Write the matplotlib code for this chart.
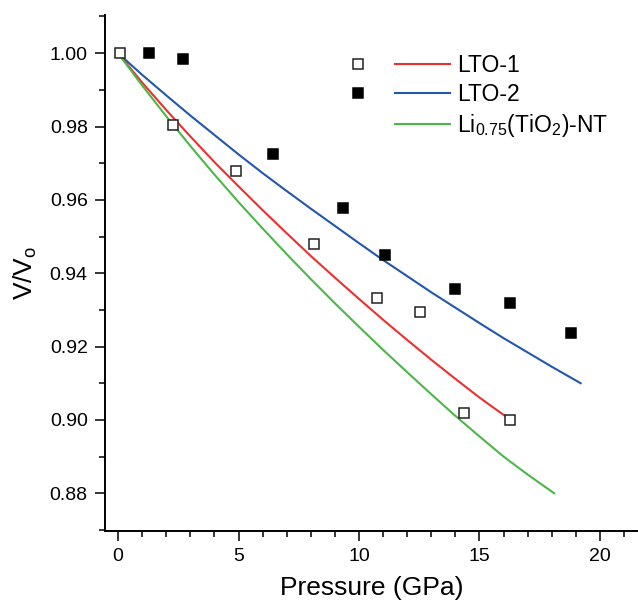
import matplotlib
matplotlib.use('Agg')
import matplotlib.pyplot as plt
from matplotlib.lines import Line2D
from matplotlib.legend_handler import HandlerTuple

plt.rcParams['font.family'] = ['Liberation Sans', 'DejaVu Sans']
plt.rcParams['mathtext.default'] = 'regular'

# measured data (open = LTO-1, filled = LTO-2)
lto1_p = [0.08, 2.3, 4.9, 8.13, 10.75, 12.54, 14.36, 16.27]
lto1_v = [1.000, 0.9805, 0.968, 0.948, 0.9332, 0.9294, 0.9019, 0.8999]
lto2_p = [1.29, 2.7, 6.42, 9.34, 11.1, 13.98, 16.27, 18.79]
lto2_v = [1.0001, 0.9985, 0.9724, 0.9578, 0.9451, 0.9356, 0.9318, 0.9236]

# EOS curves
fit1_p = [0, 1, 2, 3, 4, 5, 6, 7, 8, 9, 10, 11, 12, 13, 14, 15, 16.1]
fit1_v = [1.000, 0.9920, 0.9845, 0.9773, 0.9703, 0.9637, 0.9572, 0.9509, 0.9447,
          0.9388, 0.9330, 0.9273, 0.9218, 0.9164, 0.9112, 0.9061, 0.9009]
fit2_p = [0, 1, 2, 3, 4, 5, 6, 7, 8, 9, 10, 11, 12, 13, 14, 15, 16, 17, 18, 19.2]
fit2_v = [1.000, 0.9941, 0.9885, 0.9830, 0.9777, 0.9724, 0.9673, 0.9624, 0.9576,
          0.9529, 0.9482, 0.9436, 0.9392, 0.9348, 0.9306, 0.9264, 0.9223, 0.9184,
          0.9145, 0.9100]
fit3_p = [0, 1, 2, 3, 4, 5, 6, 7, 8, 9, 10, 11, 12, 13, 14, 15, 16, 17, 18.1]
fit3_v = [1.000, 0.9912, 0.9828, 0.9747, 0.9669, 0.9594, 0.9522, 0.9452, 0.9384,
          0.9318, 0.9254, 0.9191, 0.9130, 0.9070, 0.9011, 0.8955, 0.8900, 0.8851,
          0.8800]

labels = ['LTO-1', 'LTO-2', 'Li$_{0.75}$(TiO$_2$)-NT']
colors = ['#ec2f2f', '#2157ad', '#4cb748']

fig = plt.figure(figsize=(6.38, 6.08), dpi=100)
ax = fig.add_axes([0.1646, 0.1266, 0.8354, 0.8487])

l1, = ax.plot(fit1_p, fit1_v, color=colors[0], lw=1.5, zorder=2)
l2, = ax.plot(fit2_p, fit2_v, color=colors[1], lw=1.5, zorder=2)
l3, = ax.plot(fit3_p, fit3_v, color=colors[2], lw=1.5, zorder=2)
m1, = ax.plot(lto1_p, lto1_v, 's', ms=7.2, mfc='white', mec='#222222', mew=1.1,
              ls='none', zorder=3)
m2, = ax.plot(lto2_p, lto2_v, 's', ms=7.2, mfc='black', mec='black', mew=1.1,
              ls='none', zorder=3)
blank = Line2D([], [], ls='none')

ax.set_xlim(-0.54, 21.58)
ax.set_ylim(0.8697, 1.0104)
ax.set_xticks([0, 5, 10, 15, 20])
ax.set_xticks(range(0, 22), minor=True)
ax.set_yticks([0.88, 0.90, 0.92, 0.94, 0.96, 0.98, 1.00])
ax.set_yticks([0.87 + 0.01 * i for i in range(15)], minor=True)
ax.set_yticklabels(['0.88', '0.90', '0.92', '0.94', '0.96', '0.98', '1.00'])

for s in ['top', 'right']:
    ax.spines[s].set_visible(False)
for s in ['left', 'bottom']:
    ax.spines[s].set_linewidth(1.4)

ax.tick_params(which='major', direction='out', length=7.5, width=1.1,
               labelsize=14)
ax.tick_params(which='minor', direction='out', length=4, width=1.1)
ax.tick_params(axis='x', which='major', pad=5)
ax.tick_params(axis='y', which='major', pad=5)

ax.set_xlabel('Pressure (GPa)', fontsize=19, labelpad=8)
ax.set_ylabel('V/V$_o$', fontsize=19, labelpad=8)

ax.legend([(m1, l1), (m2, l2), (blank, l3)], labels,
          handler_map={tuple: HandlerTuple(ndivide=None, pad=0.41)},
          loc='upper left', bbox_to_anchor=(0.423, 0.924), frameon=False,
          fontsize=16.5, handlelength=5.22, handletextpad=0.3,
          borderpad=0, borderaxespad=0, labelspacing=0.25)

fig.savefig('out.png', dpi=100)
